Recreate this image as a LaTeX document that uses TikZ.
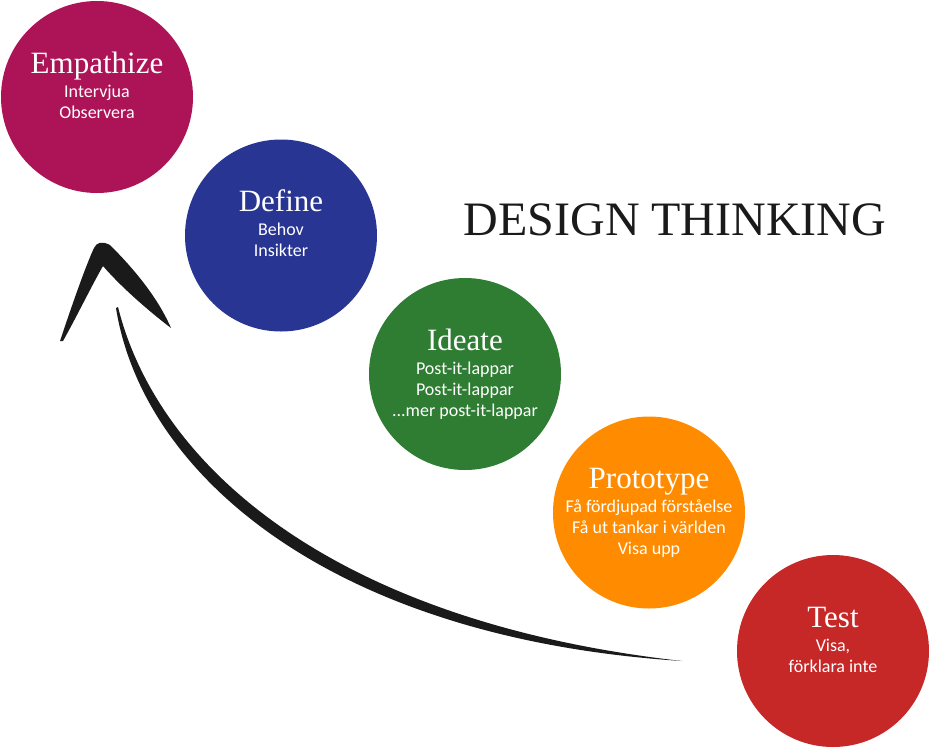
\documentclass[tikz,border=0pt]{standalone}
\usepackage{fontspec}
\setmainfont{Liberation Serif}
\newfontfamily\notesfont{Carlito}

\definecolor{empathizepink}{HTML}{AD1457}
\definecolor{defineblue}{HTML}{283593}
\definecolor{ideategreen}{HTML}{2E7D32}
\definecolor{prototypeorange}{HTML}{FF8C00}
\definecolor{testred}{HTML}{C62828}
\definecolor{inkblack}{HTML}{1A1A1A}

\def\dx{184pt}
\def\dy{-138.5pt}

\begin{document}
\begin{tikzpicture}[x=1pt,y=-1pt,
    stage/.style={circle,minimum size=192pt,inner sep=0pt},
    heading/.style={anchor=base,text=white,font=\fontsize{31}{31}\selectfont},
    notes/.style={anchor=base,align=center,text=white,font=\notesfont\fontsize{18}{21}\selectfont}]
    \useasboundingbox (0,0) rectangle (930,748);

    \node[stage,fill=empathizepink] (E) at (97,97) {};
    \node[stage,fill=defineblue] (D) [xshift=\dx,yshift=\dy] at (E) {};
    \node[stage,fill=ideategreen] (I) [xshift=\dx,yshift=\dy] at (D) {};
    \node[stage,fill=prototypeorange] (P) [xshift=\dx,yshift=\dy] at (I) {};
    \node[stage,fill=testred] (T) [xshift=\dx,yshift=\dy] at (P) {};

    \node[heading] (E1) at ([yshift=24pt]E.center) {Empathize};
    \node[heading] (D1) at ([yshift=24pt]D.center) {Define};
    \node[heading] (I1) at ([yshift=24pt]I.center) {Ideate};
    \node[heading] (P1) at ([yshift=24pt]P.center) {Prototype};
    \node[heading] (T1) at ([yshift=24pt]T.center) {Test};

    % base of a multi-line node is its last line
    \node[notes] (E2) at ([yshift=-21pt]E.center) {Intervjua\\Observera};
    \node[notes] (D2) at ([yshift=-21pt]D.center) {Behov\\Insikter};
    \node[notes] (I2) at ([yshift=-42pt]I.center) {Post-it-lappar\\Post-it-lappar\\...mer post-it-lappar};
    \node[notes] (P2) at ([yshift=-42pt]P.center) {Få fördjupad förståelse\\Få ut tankar i världen\\Visa upp};
    \node[notes] (T2) at ([yshift=-21pt]T.center) {Visa,\\förklara inte};

    \node[anchor=base,text=inkblack,font=\fontsize{48}{48}\selectfont] (title) at (675,235) {DESIGN THINKING};

    % the big arrow back to the start
    \coordinate (tail) at (682,661);
    \coordinate (tip) at (102,241);
    \fill[inkblack] (116,308) .. controls (142,472) and (327,638) .. (tail)
      .. controls (334,622) and (158,467) .. (118,307) -- cycle;
    \fill[inkblack] (60,341) .. controls (72,305) and (86,265) .. (94,248)
      .. controls (97,242) and (tip) .. (110,245)
      .. controls (135,270) and (158,298) .. (171,328)
      .. controls (150,312) and (122,288) .. (103,266)
      .. controls (92,285) and (76,318) .. (63,341) -- cycle;

\end{tikzpicture}
\end{document}
